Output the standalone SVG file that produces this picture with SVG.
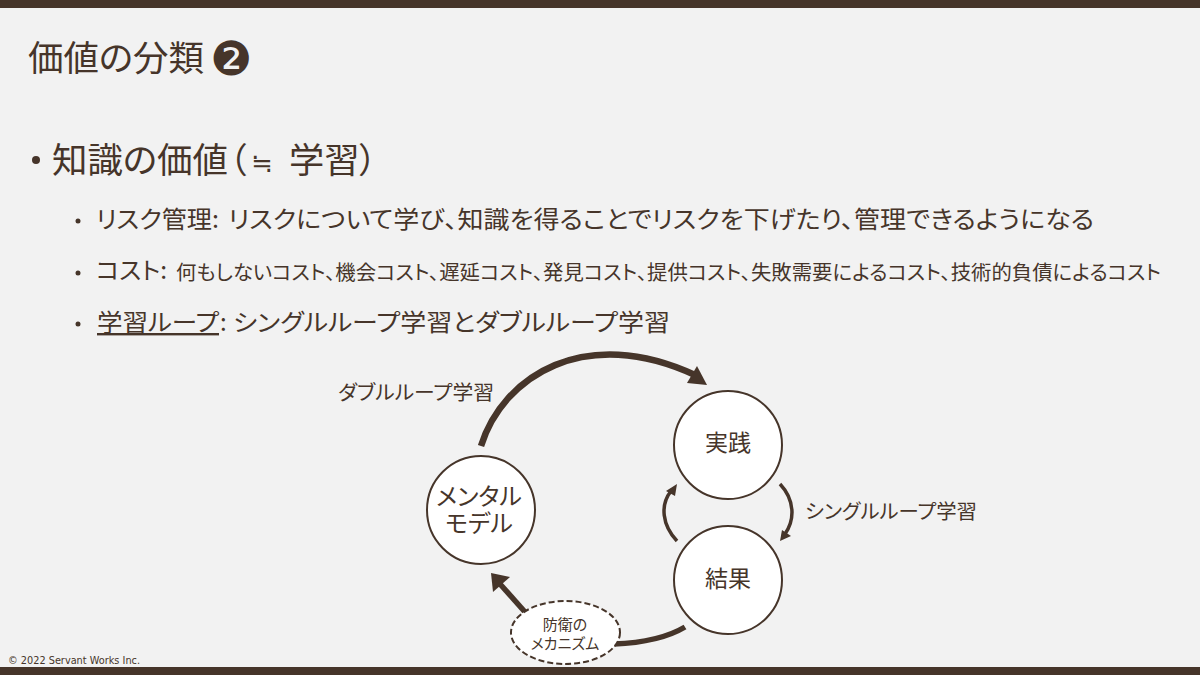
<svg xmlns="http://www.w3.org/2000/svg" width="1200" height="675" viewBox="0 0 1200 675">
<style>
text{font-family:"Noto Sans CJK JP","Noto Sans",sans-serif;fill:#46352a;font-weight:400;font-feature-settings:"palt"}
.n{fill:#fff;stroke:#46352a;stroke-width:2}
.c{fill:none;stroke:#46352a}
.a{fill:#46352a}
.m{text-anchor:middle}
</style>
<rect width="1200" height="675" fill="#f2f2f2"/>
<rect width="1200" height="8" fill="#46352a"/>
<rect y="667" width="1200" height="8" fill="#46352a"/>
<text x="28" y="71" font-size="35" textLength="176" lengthAdjust="spacingAndGlyphs">価値の分類</text>
<text x="210" y="75" font-size="47" style="font-family:'DejaVu Sans',sans-serif">❷</text>
<circle class="a" cx="36" cy="160" r="4"/>
<text x="52" y="173" font-size="35" textLength="176" lengthAdjust="spacingAndGlyphs">知識の価値</text>
<text x="229" y="173" font-size="35">（</text>
<text x="251" y="172" font-size="26" style="font-family:'DejaVu Sans',sans-serif">≒</text>
<text x="289" y="173" font-size="35" textLength="88" lengthAdjust="spacingAndGlyphs">学習）</text>
<circle class="a" cx="78" cy="221" r="2.5"/>
<text x="96" y="228" font-size="24" textLength="123" lengthAdjust="spacingAndGlyphs">リスク管理:</text>
<text x="228" y="228" font-size="24" textLength="866" lengthAdjust="spacingAndGlyphs">リスクについて学び、知識を得ることでリスクを下げたり、管理できるようになる</text>
<circle class="a" cx="78" cy="273" r="2.5"/>
<text x="96" y="279" font-size="24" textLength="71" lengthAdjust="spacingAndGlyphs">コスト:</text>
<text x="176" y="280" font-size="20" textLength="985" lengthAdjust="spacingAndGlyphs">何もしないコスト、機会コスト、遅延コスト、発見コスト、提供コスト、失敗需要によるコスト、技術的負債によるコスト</text>
<circle class="a" cx="78" cy="324" r="2.5"/>
<text x="97" y="331" font-size="24" textLength="122" lengthAdjust="spacingAndGlyphs" text-decoration="underline">学習ループ</text>
<text x="220" y="331" font-size="24">:</text>
<text x="233" y="331" font-size="24" textLength="437" lengthAdjust="spacingAndGlyphs">シングルループ学習とダブルループ学習</text>
<g id="connectors">
<path class="c" stroke-width="6.500" d="M481 446C503 376 585 324 695 375"/>
<path class="a" d="M707 385L687 383L697 366Z"/>
<path class="c" stroke-width="3.500" d="M780 484C795 500 795 520 785 534"/>
<path class="a" d="M780 541L782 530L791 536Z"/>
<path class="c" stroke-width="3.500" d="M677 541C662 525 660 505 671 491"/>
<path class="a" d="M677 484L666 491L675 496Z"/>
<path class="c" stroke-width="5.500" d="M685 627C665 639 640 643 614 644"/>
<path class="c" stroke-width="5.500" d="M525 612L500 584"/>
<path class="a" d="M491 573L493 592L510 577Z"/>
</g>
<g id="mental"><circle class="n" cx="481" cy="510" r="54"/><text class="m" x="479" y="505" font-size="24">メンタル<tspan x="479" dy="27">モデル</tspan></text></g>
<g id="practice"><circle class="n" cx="728" cy="445" r="54"/><text class="m" x="728" y="451" font-size="23">実践</text></g>
<g id="result"><circle class="n" cx="728" cy="580" r="54"/><text class="m" x="728" y="587" font-size="23">結果</text></g>
<g id="defense"><ellipse cx="565.500" cy="632.500" rx="54.500" ry="31.500" fill="#fff" stroke="#46352a" stroke-width="2" stroke-dasharray="6 3"/><text class="m" x="565" y="630" font-size="15">防衛の<tspan x="565" dy="19">メカニズム</tspan></text></g>
<text x="338" y="400" font-size="20" textLength="156" lengthAdjust="spacingAndGlyphs">ダブルループ学習</text>
<text x="805" y="519" font-size="20" textLength="172" lengthAdjust="spacingAndGlyphs">シングルループ学習</text>
<text x="8" y="664" font-size="10" textLength="132" lengthAdjust="spacingAndGlyphs" style="font-family:'DejaVu Sans',sans-serif">© 2022 Servant Works Inc.</text>
</svg>
